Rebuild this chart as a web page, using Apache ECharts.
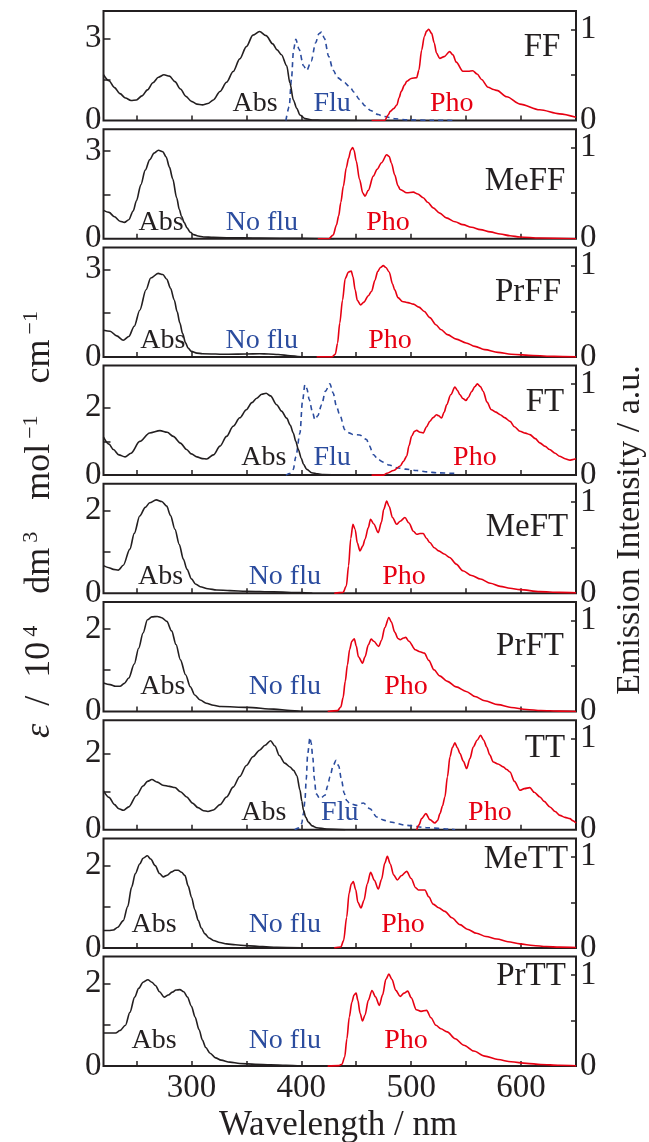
<!DOCTYPE html>
<html><head><meta charset="utf-8">
<script src="https://cdn.jsdelivr.net/npm/echarts@6/dist/echarts.min.js"></script>
<style>html,body{margin:0;padding:0;background:#fff}#c{width:649px;height:1142px}</style>
</head><body><div id="c"></div>
<script>
// ---------------- DATA ----------------
const panelNames = ['FF','MeFF','PrFF','FT','MeFT','PrFT','TT','MeTT','PrTT'];
const xTickLabels = [300,400,500,600];
const xMinorTicks = [250,300,350,400,450,500,550,600];
const leftMax = [4, 3.75, 3.75, 3.25, 2.65, 2.65, 2.88, 2.65, 2.65];
const leftMajor = [3, 3, 3, 2, 2, 2, 2, 2, 2];
const rightMax = 1.2;
const rightMajor = 1;

const ffAbs = [[220,1.67],[225,1.45],[230,1.2],[235,0.98],[240,0.82],[245,0.73],[250,0.75],[255,0.9],[260,1.12],[265,1.38],[270,1.58],[275,1.67],[280,1.62],[285,1.42],[290,1.15],[295,0.88],[300,0.7],[305,0.6],[310,0.57],[315,0.62],[320,0.75],[326,1.06],[332,1.4],[338,1.79],[344,2.25],[350,2.7],[356,3.12],[362,3.25],[368,3.1],[374,2.8],[378,2.58],[382,2.4],[386.7,2.0],[389.7,1.36],[392.8,0.75],[395.8,0.45],[398.8,0.2],[403.4,0.07],[410,0.02],[420,0.005],[450,0]];
const ffFlu = [[386,0],[389,0.15],[391,0.45],[393,0.78],[395,0.89],[398,0.78],[402,0.6],[405,0.55],[409,0.65],[413,0.85],[416,0.95],[418.5,0.97],[421,0.9],[425,0.7],[429,0.55],[433,0.47],[438,0.43],[444,0.37],[448,0.31],[453,0.23],[458,0.16],[463,0.11],[470,0.065],[475,0.044],[485,0.02],[496,0.007],[520,0.002],[540,0]];
const ffPho = [[464,0],[476,0],[479,0.06],[481,0.1],[484,0.13],[487,0.17],[489,0.25],[491,0.32],[494,0.39],[496,0.43],[500,0.46],[505,0.47],[507,0.55],[509.5,0.77],[512,0.92],[514,0.98],[516,1.0],[518.6,0.955],[521,0.85],[523,0.74],[526,0.68],[530,0.7],[535,0.755],[538,0.72],[541,0.64],[547,0.54],[552,0.54],[556,0.545],[560,0.51],[564,0.45],[570,0.365],[575,0.34],[578,0.33],[587,0.26],[599,0.18],[617,0.117],[635,0.073],[650,0.035]];

const meffAbs = [[220,0.97],[225,0.9],[230,0.75],[235,0.6],[239,0.56],[243,0.65],[247,0.95],[250,1.3],[254,1.85],[258,2.35],[262,2.7],[266,2.93],[270,3.03],[274,2.98],[277,2.8],[280,2.45],[283,2.05],[286.6,1.4],[289,1.0],[291,0.77],[293.5,0.55],[296,0.37],[299,0.22],[302,0.14],[306,0.09],[311,0.06],[320,0.045],[332,0.035],[362,0.02],[399,0.01],[430,0]];
const meffPho = [[415,0],[425,0],[429,0.04],[432,0.15],[434,0.25],[436,0.4],[438.3,0.576],[441,0.78],[443,0.88],[445,0.97],[446.7,1.0],[448,0.97],[450,0.85],[453,0.65],[456,0.5],[458,0.466],[461,0.53],[465.5,0.686],[469,0.76],[473,0.833],[477.7,0.92],[480,0.9],[482,0.83],[485,0.7],[488,0.58],[490,0.54],[496,0.503],[502,0.51],[506,0.49],[511,0.448],[515,0.4],[520,0.338],[526,0.28],[532,0.228],[540,0.185],[547,0.154],[555,0.125],[563,0.1],[572,0.075],[581,0.051],[590,0.033],[599,0.018],[617,0.007],[650,0]];

const prffAbs = [[220,0.91],[226,0.88],[232,0.72],[238,0.57],[243,0.7],[248,1.05],[253,1.6],[258.7,2.3],[263,2.7],[269.7,2.86],[274,2.82],[277.6,2.66],[281,2.35],[284.4,1.95],[287,1.55],[289.5,1.16],[292,0.8],[294.7,0.48],[297,0.3],[300,0.19],[305,0.13],[310,0.11],[334,0.09],[350,0.1],[362,0.11],[370,0.1],[379,0.08],[390,0.04],[400,0]];
const prffPho = [[414,0],[428,0],[431,0.03],[433,0.15],[435,0.37],[437.5,0.62],[440,0.86],[443,0.93],[445.5,0.94],[447,0.88],[449,0.735],[451,0.62],[454,0.57],[457,0.6],[461,0.67],[464,0.72],[467,0.84],[469.5,0.935],[472,0.98],[474.6,1.0],[477,0.98],[480,0.93],[483,0.8],[485,0.735],[488,0.65],[492,0.607],[497,0.595],[502,0.578],[507,0.545],[512,0.498],[517,0.43],[522.5,0.353],[527,0.3],[533,0.244],[541,0.195],[550,0.153],[558,0.115],[567,0.08],[579,0.05],[591,0.029],[611,0.015],[630,0.006],[650,0]];

const ftAbs = [[220,1.13],[225,0.92],[229,0.76],[234,0.6],[239.6,0.54],[245,0.65],[253,1.0],[262,1.25],[271.4,1.32],[278,1.27],[283.5,1.15],[290,0.95],[295.6,0.76],[300,0.63],[305,0.54],[310,0.49],[314,0.48],[320,0.6],[326,0.86],[332,1.15],[338,1.45],[344,1.7],[350,1.94],[355,2.15],[359.4,2.28],[364,2.4],[368,2.43],[372,2.35],[377.6,2.09],[382,1.9],[386.7,1.69],[390,1.48],[392.7,1.25],[395,1.0],[397.3,0.76],[400,0.5],[402,0.32],[405,0.17],[409.4,0.07],[415,0.035],[420,0.02],[440,0]];
const ftFlu = [[386,0],[390,0.02],[392.7,0.062],[395,0.2],[398.8,0.46],[401,0.8],[403.3,0.99],[405,0.95],[407.3,0.825],[410,0.7],[412.4,0.607],[415,0.65],[418.5,0.77],[422,0.92],[426,1.0],[429,0.9],[432,0.753],[435,0.66],[439.7,0.498],[444,0.46],[447.3,0.444],[453,0.44],[459.5,0.389],[462,0.32],[465.5,0.225],[470,0.17],[474.6,0.142],[480,0.11],[486.8,0.08],[495,0.065],[505,0.05],[515,0.035],[523,0.025],[540,0.018]];
const ftPho = [[464,0],[475,0],[478,0.02],[484,0.05],[490,0.1],[493,0.15],[496,0.21],[498,0.32],[500.4,0.425],[503,0.48],[505,0.49],[508,0.47],[511,0.462],[514,0.53],[517,0.59],[520,0.63],[523,0.662],[525,0.65],[527.7,0.625],[530,0.69],[532.3,0.771],[536,0.88],[539.8,0.964],[542,0.93],[544.4,0.88],[547,0.84],[549.8,0.818],[552,0.85],[555,0.916],[558,0.97],[560.2,1.0],[563,0.97],[565.6,0.916],[569,0.8],[573,0.716],[577,0.69],[581,0.662],[585,0.63],[590,0.589],[594,0.53],[599,0.48],[604,0.46],[608,0.444],[613,0.4],[617,0.353],[622,0.315],[626,0.28],[631,0.24],[635,0.207],[640,0.18],[644.5,0.164],[647,0.17],[650,0.178]];

const meftAbs = [[220,0.67],[225,0.62],[229,0.58],[233.5,0.56],[238,0.68],[244,1.07],[248,1.45],[253,1.87],[258,2.08],[262,2.19],[268,2.26],[273,2.22],[277.5,2.11],[281,1.88],[285,1.55],[289,1.18],[292.6,0.83],[296,0.58],[300,0.35],[304,0.22],[308,0.16],[315,0.11],[323,0.08],[335,0.065],[350,0.05],[375,0.035],[399,0.016],[410,0]];
const meftPho = [[430,0],[438,0.01],[441,0.08],[443,0.3],[445,0.6],[447,0.756],[449,0.7],[451,0.55],[453.4,0.465],[456,0.52],[458,0.593],[461,0.72],[463,0.81],[466,0.76],[470,0.665],[473,0.78],[475,0.92],[477.7,1.01],[480,0.95],[483,0.83],[486.8,0.756],[490,0.79],[494.3,0.83],[498,0.77],[502,0.68],[505,0.647],[508,0.655],[511,0.655],[514,0.6],[517,0.556],[521,0.5],[525,0.465],[530,0.43],[535,0.393],[541,0.32],[547,0.247],[555,0.195],[563,0.156],[572,0.11],[581,0.076],[590,0.055],[599,0.04],[617,0.018],[635,0.01],[650,0.006]];

const prftAbs = [[220,0.69],[226,0.65],[231,0.61],[235,0.61],[239,0.68],[243,0.81],[248,1.15],[252,1.53],[256,1.9],[260,2.22],[264,2.29],[269,2.3],[273,2.27],[277.6,2.18],[282,1.95],[286,1.62],[290,1.25],[294.7,0.89],[299,0.6],[303,0.4],[308,0.28],[313.5,0.2],[320,0.15],[327,0.12],[351,0.1],[375,0.057],[390,0.025],[400,0]];
const prftPho = [[424,0],[433,0.01],[436,0.05],[438,0.15],[440,0.33],[442,0.512],[444,0.68],[446,0.77],[448.2,0.798],[450,0.72],[452,0.6],[455.7,0.53],[458,0.6],[461,0.73],[463.6,0.794],[466,0.77],[470.4,0.713],[473,0.78],[476,0.92],[479.7,1.03],[482,0.98],[485,0.87],[488,0.8],[490,0.787],[493,0.805],[495,0.812],[498,0.77],[503.7,0.677],[508,0.655],[512,0.64],[516,0.56],[520.8,0.457],[526,0.39],[533,0.33],[541,0.27],[550,0.22],[558,0.165],[567,0.117],[579,0.075],[591,0.044],[605,0.022],[618,0.011],[635,0.004],[650,0]];

const ttAbs = [[220,1.02],[225,0.85],[230,0.66],[234,0.55],[238,0.51],[243,0.6],[250,0.9],[256,1.15],[260,1.27],[264,1.32],[269,1.25],[274,1.17],[280,1.14],[285,1.11],[290,1.0],[295.7,0.86],[301,0.7],[306,0.58],[311,0.5],[315,0.48],[320,0.52],[326,0.66],[332,0.86],[338,1.12],[344,1.4],[350,1.69],[356,1.92],[362,2.09],[367,2.22],[372,2.34],[376,2.2],[380,1.95],[385,1.75],[389.7,1.65],[393,1.56],[396,1.42],[398.8,1.04],[400.5,0.75],[402,0.51],[404,0.33],[406.4,0.2],[410,0.1],[414,0.05],[423,0.02],[440,0]];
const ttFlu = [[394,0],[398,0.02],[400.3,0.066],[402,0.18],[403.3,0.32],[404.5,0.55],[405.8,0.83],[407.9,1.01],[409,0.95],[410.4,0.8],[412,0.55],[413.4,0.395],[417,0.34],[421.5,0.377],[424,0.48],[426,0.578],[429,0.7],[431.6,0.76],[434,0.7],[436.7,0.54],[439,0.4],[441.3,0.32],[444.3,0.285],[450.4,0.267],[456.4,0.293],[462.5,0.23],[468.6,0.14],[475,0.105],[480.7,0.084],[495.9,0.048],[514,0.022],[535,0.007],[540,0]];
const ttPho = [[505,0],[507,0.05],[509.5,0.121],[513.4,0.176],[517,0.11],[521.6,0.073],[524,0.1],[526.2,0.176],[528.5,0.26],[530.7,0.359],[533,0.58],[535.3,0.798],[537.5,0.9],[539.8,0.951],[542,0.9],[544.4,0.834],[547.5,0.75],[550.5,0.67],[553.5,0.78],[556.5,0.907],[560,0.98],[563.2,1.035],[566,0.98],[568.7,0.907],[571.5,0.82],[574.7,0.742],[579,0.72],[583.8,0.688],[587,0.66],[589.9,0.633],[594,0.53],[599,0.432],[603,0.45],[608,0.461],[612,0.41],[617.2,0.359],[621,0.31],[626.3,0.249],[631,0.2],[635.4,0.157],[640,0.135],[644.5,0.121],[647,0.1],[650,0.073]];

const mettAbs = [[220,0.42],[225,0.42],[229,0.435],[233,0.5],[238,0.66],[242,1.0],[245.6,1.47],[249,1.8],[253,2.03],[256,2.17],[259.9,2.23],[263,2.15],[267,1.99],[271,1.8],[274.4,1.72],[278,1.76],[282,1.84],[285,1.88],[288,1.88],[291,1.83],[294.2,1.75],[297,1.5],[300.2,1.22],[303,0.93],[306.3,0.66],[309,0.48],[312.3,0.34],[316,0.24],[320,0.18],[326,0.13],[332,0.097],[340,0.075],[350,0.056],[365,0.03],[377.6,0.016],[400,0]];
const mettPho = [[430,0],[436,0.01],[438.5,0.08],[441.3,0.336],[443.5,0.6],[445.5,0.7],[447.3,0.726],[449.5,0.64],[451.5,0.5],[454.3,0.438],[457,0.52],[460,0.7],[463.1,0.828],[466.5,0.74],[470.1,0.646],[473,0.75],[476,0.93],[478.3,1.003],[481,0.92],[484,0.8],[487.4,0.744],[491,0.79],[495.9,0.839],[500,0.76],[504,0.66],[506.5,0.635],[512.5,0.635],[516,0.56],[520,0.48],[525,0.44],[530.7,0.4],[537,0.33],[544.4,0.255],[551,0.205],[559.5,0.16],[568,0.125],[578,0.098],[588,0.068],[599,0.044],[611,0.026],[623,0.015],[635,0.008],[650,0.004]];

const prttAbs = [[220,0.8],[226,0.8],[231,0.8],[235,0.86],[240,0.99],[244,1.3],[248.4,1.67],[252,1.88],[256,2.03],[260.4,2.09],[264,2.03],[267.3,1.95],[271,1.8],[275.2,1.67],[279,1.72],[282.7,1.79],[286,1.84],[289.5,1.85],[293,1.8],[296.4,1.67],[300,1.45],[303.3,1.19],[307,0.88],[310,0.63],[313,0.45],[317,0.31],[322,0.2],[327,0.145],[335,0.095],[344,0.064],[358,0.045],[372,0.032],[386,0.02],[399,0.01],[420,0]];
const prttPho = [[424,0],[434,0.005],[437,0.02],[439.5,0.1],[441.5,0.3],[443.7,0.538],[446,0.7],[448,0.78],[449.9,0.8],[451.5,0.72],[453.5,0.58],[455.7,0.494],[458,0.56],[461,0.72],[464.3,0.829],[467.5,0.76],[471,0.665],[474,0.78],[477,0.95],[479.7,1.01],[482.5,0.95],[486,0.83],[490,0.764],[493.5,0.8],[496.9,0.822],[500,0.75],[504.7,0.618],[509,0.6],[514,0.611],[518,0.53],[522.5,0.447],[527,0.41],[532.8,0.375],[540,0.3],[548,0.229],[557,0.165],[567,0.109],[579,0.072],[591,0.047],[605,0.03],[618,0.018],[635,0.009],[650,0.004]];

const absSeries = [ffAbs, meffAbs, prffAbs, ftAbs, meftAbs, prftAbs, ttAbs, mettAbs, prttAbs];
const fluSeries = [ffFlu, null, null, ftFlu, null, null, ttFlu, null, null];
const phoSeries = [ffPho, meffPho, prffPho, ftPho, meftPho, prftPho, ttPho, mettPho, prttPho];

const absText = 'Abs', fluText = 'Flu', noFluText = 'No flu', phoText = 'Pho';

// ---------------- LAYOUT / STYLE ----------------
const INK = '#231f20', RED = '#e60012', BLUE = '#2b4c9e';
const FONT = '"Liberation Serif","Times New Roman",serif';
const G_TOP = 11, G_STEP = 118.2, G_H = 109.5, G_L = 103.5, G_W = 472.5;
const X_MIN = 220, X_MAX = 650;
const lblAbsX = [357.9, 272.3, 274, 366, 272, 274, 366, 266, 266];
const lblFluX = [428, 364.2, 364, 428, 385, 385, 435, 385, 385];
const lblPhoX = [537, 478.9, 480.7, 558, 493.5, 495.3, 571.6, 492.6, 495.3];
const lblBase = [7.5, 7.5, 7, 8, 8, 16, 7.6, 14.6, 16];
const nameX = [542, 525, 528, 545, 527, 530, 545, 526, 531];
const nameBase = [47, 62.7, 55.6, 47, 54, 54.7, 39, 31.6, 30];

const chart = echarts.init(document.getElementById('c'), null, {renderer: 'canvas'});
const grid = [], xAxis = [], yAxis = [], series = [], graphic = [];
const n = panelNames.length;
const xPix = v => G_L + (v - X_MIN) / (X_MAX - X_MIN) * G_W;

for (let i = 0; i < n; i++) {
  const top = G_TOP + i * G_STEP;
  grid.push({left: G_L, top: top, width: G_W, height: G_H, show: true,
    borderColor: INK, borderWidth: 2, backgroundColor: 'transparent', containLabel: false, outerBoundsMode: 'none'});
  const last = i === n - 1;
  xAxis.push({type: 'value', gridIndex: i, min: X_MIN, max: X_MAX,
    axisLine: {show: false}, splitLine: {show: false},
    axisTick: {show: true, inside: true, length: 5, lineStyle: {color: INK, width: 1.5}, customValues: xMinorTicks},
    axisLabel: {show: last, margin: 6, fontSize: 33, fontFamily: FONT, color: INK, customValues: xTickLabels}
  });
  yAxis.push({type: 'value', gridIndex: i, min: 0, max: leftMax[i], position: 'left',
    axisLine: {show: false}, splitLine: {show: false},
    axisTick: {show: true, inside: true, length: 7, lineStyle: {color: INK, width: 1.5}, customValues: [leftMajor[i] / 2, leftMajor[i]]},
    axisLabel: {show: true, margin: 2, fontSize: 33, fontFamily: FONT, color: INK, customValues: [0, leftMajor[i]]}
  });
  yAxis.push({type: 'value', gridIndex: i, min: 0, max: rightMax, position: 'right',
    axisLine: {show: false}, splitLine: {show: false},
    axisTick: {show: true, inside: true, length: 5, lineStyle: {color: INK, width: 1.5}, customValues: [rightMajor / 2, rightMajor]},
    axisLabel: {show: true, margin: 4, fontSize: 33, fontFamily: FONT, color: INK, customValues: [0, rightMajor]}
  });
  const base = {type: 'line', xAxisIndex: i, showSymbol: false, smooth: 0.3, smoothMonotone: 'x', silent: true, clip: true};
  series.push(Object.assign({}, base, {yAxisIndex: 2 * i, data: absSeries[i], lineStyle: {color: INK, width: 1.6}, z: 3}));
  if (fluSeries[i]) series.push(Object.assign({}, base, {yAxisIndex: 2 * i + 1, data: fluSeries[i], lineStyle: {color: BLUE, width: 1.6, type: [5, 4]}, z: 2}));
  series.push(Object.assign({}, base, {yAxisIndex: 2 * i + 1, data: phoSeries[i], lineStyle: {color: RED, width: 1.6}, z: 4}));

  const bottom = top + G_H;
  const fs = 28, ly = bottom - lblBase[i] - 0.32 * fs;
  const txt = (x, y, t, c, size) => ({type: 'text', x: x, y: y, silent: true, z: 10,
    style: {text: t, fill: c, fontSize: size, fontFamily: FONT, align: 'center', verticalAlign: 'middle'}});
  graphic.push(txt(xPix(lblAbsX[i]), ly, absText, INK, fs));
  graphic.push(txt(xPix(lblFluX[i]), ly, fluSeries[i] ? fluText : noFluText, BLUE, fs));
  graphic.push(txt(xPix(lblPhoX[i]), ly, phoText, RED, fs));
  graphic.push(txt(nameX[i], top + nameBase[i] - 0.32 * 33, panelNames[i], INK, 33));
}

// axis titles
graphic.push({type: 'text', x: 338, y: 1126, silent: true,
  style: {text: 'Wavelength / nm', fill: INK, fontSize: 35, fontFamily: FONT, align: 'center', verticalAlign: 'middle'}});
graphic.push({type: 'text', x: 630, y: 530, rotation: Math.PI / 2, silent: true,
  style: {text: 'Emission Intensity / a.u.', fill: INK, fontSize: 34, fontFamily: FONT, align: 'center', verticalAlign: 'middle'}});
graphic.push({type: 'text', x: 40, y: 522, rotation: Math.PI / 2, silent: true,
  style: {text: '{e|ε}  /  10{s|4}   dm{s|3}   mol{s|−1}   cm{s|−1}', fill: INK, fontSize: 36, fontFamily: FONT,
    align: 'center', verticalAlign: 'middle', lineHeight: 40,
    rich: {
      e: {fontStyle: 'italic', fontSize: 36, fontFamily: FONT, fill: INK, lineHeight: 40},
      s: {fontSize: 22, fontFamily: FONT, fill: INK, verticalAlign: 'top', lineHeight: 40, padding: [0, 5, 0, 5]}
    }}});

chart.setOption({animation: false, backgroundColor: '#fff', grid, xAxis, yAxis, series, graphic});
</script></body></html>
